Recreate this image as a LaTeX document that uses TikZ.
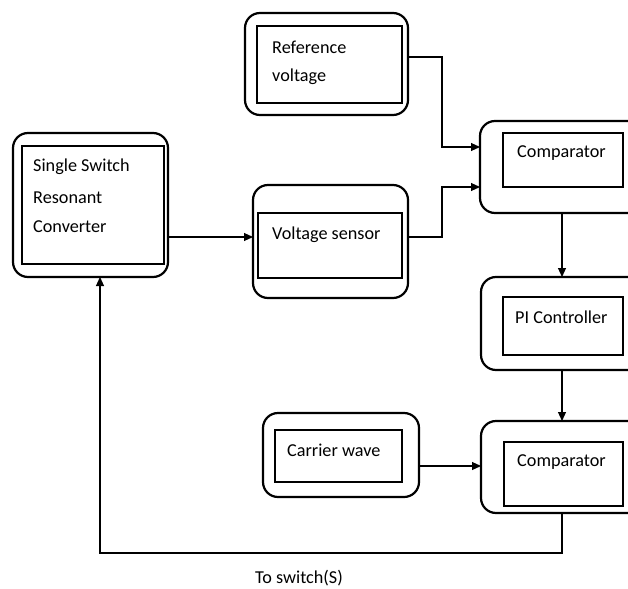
\documentclass[tikz,border=0pt]{standalone}
\usepackage{fontspec}
\setmainfont{Carlito}
\usetikzlibrary{arrows.meta}
\begin{document}
\begin{tikzpicture}[x=1pt,y=-1pt,
  outerbox/.style={draw, line width=2.2pt, rounded corners=15pt, inner sep=0pt, outer sep=0pt},
  innerbox/.style={draw, line width=1.1pt, inner sep=0pt, outer sep=0pt},
  lbl/.style={anchor=west, inner sep=0pt, font=\fontsize{18.2}{21}\selectfont},
  arr/.style={line width=1.1pt, -{Triangle[length=9pt,width=8pt]}},
  ln/.style={line width=1.1pt}]
\clip (0,0) rectangle (628,588);
\fill[white] (0,0) rectangle (628,588);
% Converter
\node[outerbox, minimum width=155pt, minimum height=144pt] (conv) at (90.5,205) {};
\node[innerbox, minimum width=142pt, minimum height=118pt] (convin) at (93,205) {};
\node[lbl] (convt1) at (33,167) {Single Switch};
\node[lbl] (convt2) at (33,198) {Resonant};
\node[lbl] (convt3) at (33,227) {Converter};
% Reference voltage
\node[outerbox, minimum width=163pt, minimum height=102pt] (ref) at (326.5,64) {};
\node[innerbox, minimum width=145pt, minimum height=77pt] (refin) at (329.5,64.5) {};
\node[lbl] (reft1) at (272,47) {Reference};
\node[lbl] (reft2) at (272,77) {voltage};
% Voltage sensor
\node[outerbox, minimum width=155pt, minimum height=113pt] (sens) at (330.5,241.5) {};
\node[innerbox, minimum width=144pt, minimum height=65pt] (sensin) at (330,245.5) {};
\node[lbl] (senst) at (272,235) {Voltage sensor};
% Comparator 1
\node[outerbox, minimum width=170pt, minimum height=92pt] (compa) at (565,167) {};
\node[innerbox, minimum width=120pt, minimum height=54pt] (compain) at (563,160) {};
\node[lbl] (compat) at (517,153) {Comparator};
% PI controller
\node[outerbox, minimum width=169pt, minimum height=93pt] (pi) at (565.5,323.5) {};
\node[innerbox, minimum width=120pt, minimum height=58pt] (piin) at (563,326) {};
\node[lbl] (pit) at (515,317) {PI Controller};
% Carrier wave
\node[outerbox, minimum width=156pt, minimum height=84pt] (carr) at (341,455) {};
\node[innerbox, minimum width=127pt, minimum height=52pt] (carrin) at (338.5,456) {};
\node[lbl] (carrt) at (287,450) {Carrier wave};
% Comparator 2
\node[outerbox, minimum width=169pt, minimum height=92pt] (compb) at (565.5,467) {};
\node[innerbox, minimum width=119pt, minimum height=64pt] (compbin) at (563.5,474) {};
\node[lbl] (compbt) at (517,462) {Comparator};
% Label
\node[inner sep=0pt, font=\fontsize{18.2}{21}\selectfont] (sw) at (299,578) {To switch(S)};
% helper coordinates
\coordinate (yconv) at (0,237);
\coordinate (jref) at (442,57);
\coordinate (ycmpa1) at (0,147);
\coordinate (jsens) at (442,237);
\coordinate (ycmpa2) at (0,187);
\coordinate (xv) at (562,0);
\coordinate (ycarr) at (0,466);
\coordinate (jbot) at (562,553);
\coordinate (jleft) at (100,553);
% connectors
\draw[arr] (conv.east |- yconv) -- (sens.west |- yconv);
\draw[arr] (ref.east |- jref) -- (jref) |- (compa.west |- ycmpa1);
\draw[arr] (sens.east |- jsens) -- (jsens) |- (compa.west |- ycmpa2);
\draw[arr] (compa.south -| xv) -- (pi.north -| xv);
\draw[arr] (pi.south -| xv) -- (compb.north -| xv);
\draw[arr] (carr.east |- ycarr) -- (compb.west |- ycarr);
\draw[arr] (compb.south -| xv) -- (jbot) -- (jleft) -- (conv.south -| jleft);
\end{tikzpicture}
\end{document}
